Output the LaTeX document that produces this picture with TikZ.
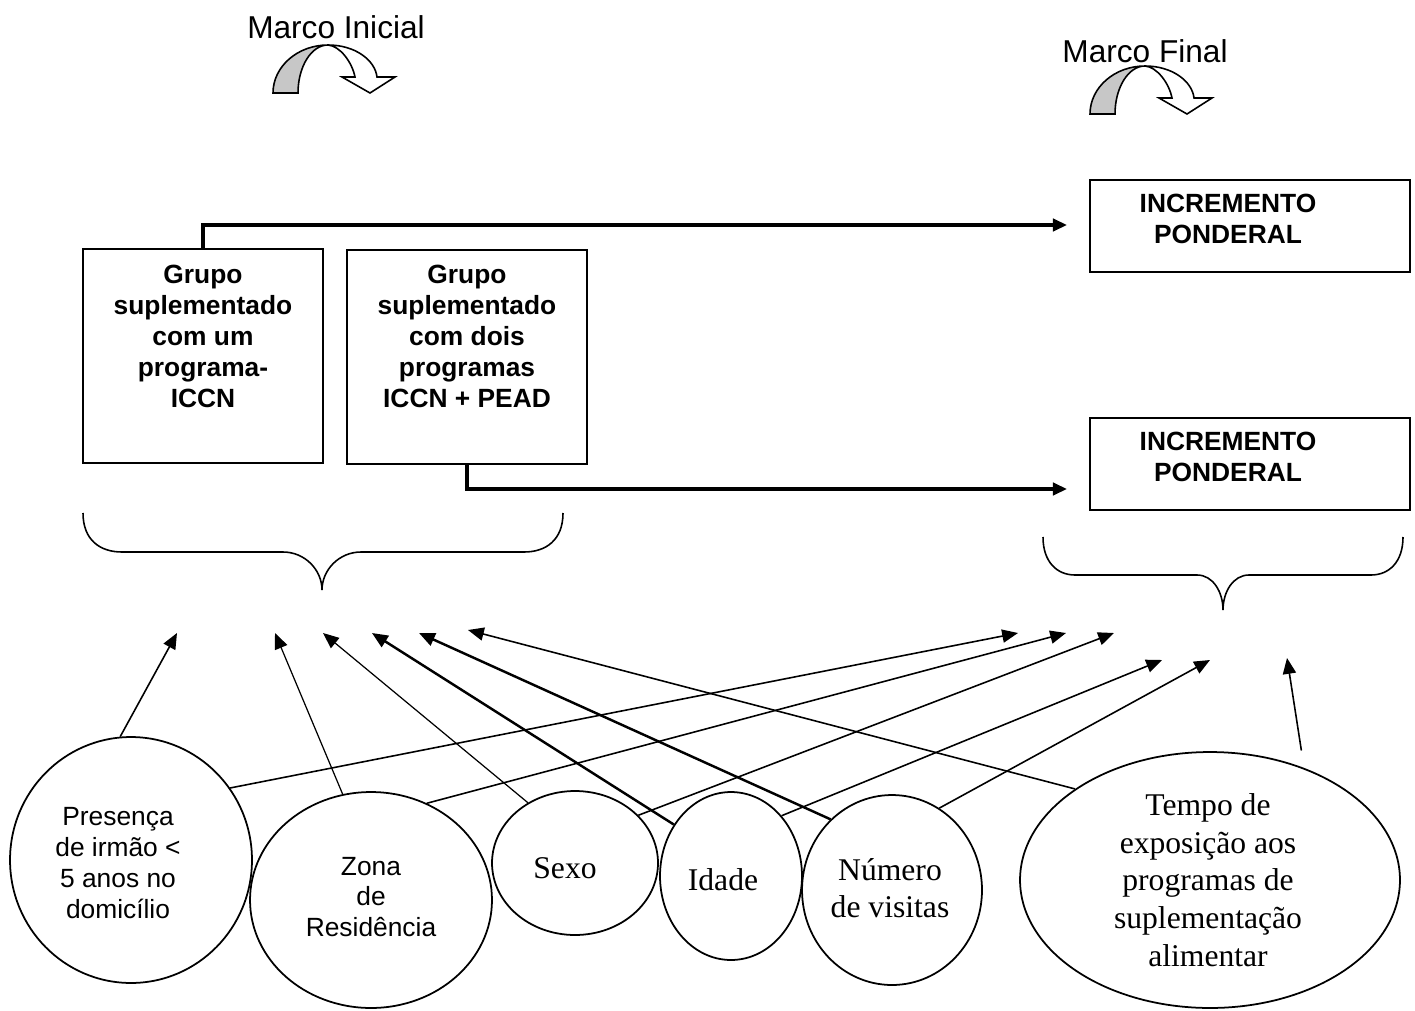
\documentclass[tikz,border=0pt]{standalone}
\usepackage{fontspec}
\setmainfont{Liberation Sans}
\newfontfamily\timesfont{Liberation Serif}
\usetikzlibrary{arrows.meta,shapes.geometric}

\tikzset{
  marcoseta/.pic={
    % white half with the arrow head
    \draw[line width=0.9pt, fill=white, line join=miter]
      (0,0) .. controls (27,0) and (47,15) .. (49,32) -- (67,32) -- (42,48)
      -- (14,32) -- (27,32) .. controls (24,17) and (12,1) .. (0,0) -- cycle;
    % grey half
    \draw[line width=0.9pt, fill=black!22]
      (-55,48) .. controls (-55,21.5) and (-30.4,0) .. (0,0)
      .. controls (-16.6,0) and (-30,21.5) .. (-30,48) -- cycle;
  }
}

\begin{document}
\begin{tikzpicture}[x=0.02cm, y=-0.02cm,
  grpbox/.style={draw, line width=1.1pt, minimum width=4.8cm, minimum height=4.28cm, inner sep=0pt},
  incbox/.style={draw, line width=1.1pt, minimum width=6.4cm, minimum height=1.84cm, inner sep=0pt},
  boxtxt/.style={font=\fontsize{15}{17.6}\selectfont\bfseries, align=center, inner sep=0pt},
  oval/.style={draw, ellipse, line width=1pt, inner sep=0pt},
  ovaltxt/.style={font=\fontsize{15}{17.6}\selectfont, align=center, inner sep=0pt},
  timestxt/.style={font=\fontsize{18}{21}\timesfont, align=center, inner sep=0pt},
  link/.style={line width=1.8pt, -{Triangle[length=8pt,width=7pt]}},
  fator/.style={line width=0.9pt, -{Triangle[length=9pt,width=7.5pt]}},
  fatorfino/.style={fator, line width=0.7pt},
  fatorgrosso/.style={fator, line width=1.4pt}]

  \useasboundingbox (0,0) rectangle (1415,1010);

  % Marcos at the top
  \node[font=\fontsize{18}{21}\selectfont, inner sep=0pt] (marcoini) at (336,27) {Marco Inicial};
  \node[font=\fontsize{18}{21}\selectfont, inner sep=0pt] (marcofim) at (1145,51) {Marco Final};
  \pic at (328,45) {marcoseta};
  \pic at (1145,66) {marcoseta};

  % The two groups
  \node[grpbox] (g1) at (203,356) {};
  \node[boxtxt, anchor=north] (g1txt) at (203,265) {Grupo\\suplementado\\com um\\programa-\\ICCN};
  \node[grpbox] (g2) at (467,357) {};
  \node[boxtxt, anchor=north] (g2txt) at (467,265) {Grupo\\suplementado\\com dois\\programas\\ICCN + PEAD};

  % Outcome boxes
  \node[incbox] (ip1) at (1250,226) {};
  \node[boxtxt] (ip1txt) at (1228,219) {INCREMENTO\\PONDERAL};
  \node[incbox] (ip2) at (1250,464) {};
  \node[boxtxt] (ip2txt) at (1228,457) {INCREMENTO\\PONDERAL};

  \coordinate (p1) at (1067,225);
  \coordinate (p2) at (1067,489);
  \draw[link] (g1.north) |- (p1);
  \draw[link] (g2.south) |- (p2);

  % Braces
  \draw[line width=0.9pt] (83,513) .. controls (83,540) and (100,552) .. (122,552) -- (283,552)
    .. controls (305,552) and (322,570) .. (322,590)
    .. controls (322,570) and (339,552) .. (361,552) -- (524,552)
    .. controls (546,552) and (563,540) .. (563,513);
  \draw[line width=0.9pt] (1043,537) .. controls (1043,562) and (1057,575) .. (1075,575) -- (1197,575)
    .. controls (1213,575) and (1223,592) .. (1223,610)
    .. controls (1223,592) and (1233,575) .. (1249,575) -- (1371,575)
    .. controls (1389,575) and (1403,562) .. (1403,537);

  % Factors
  \node[oval, minimum width=4.84cm, minimum height=4.92cm] (pres) at (131,860) {};
  \node[ovaltxt] (prestxt) at (118,863) {Presença\\de irmão <\\5 anos no\\domicílio};
  \node[oval, minimum width=4.84cm, minimum height=4.32cm] (zona) at (371,900) {};
  \node[ovaltxt] (zonatxt) at (371,897) {Zona\\de\\Residência};
  \node[oval, minimum width=3.32cm, minimum height=2.88cm] (sexo) at (575,863) {};
  \node[timestxt] (sexotxt) at (565,868) {Sexo};
  \node[oval, minimum width=2.84cm, minimum height=3.36cm] (idade) at (731,876) {};
  \node[timestxt] (idadetxt) at (723,880) {Idade};
  \node[oval, minimum width=3.6cm, minimum height=3.8cm] (num) at (892,890) {};
  \node[timestxt] (numtxt) at (890,888) {Número\\de visitas};
  \node[oval, minimum width=7.6cm, minimum height=5.12cm] (tempo) at (1210,880) {};
  \node[timestxt, font=\fontsize{18}{21.5}\timesfont] (tempotxt) at (1208,880) {Tempo de\\exposição aos\\programas de\\suplementação\\alimentar};

  % Arrow tips
  \coordinate (ini1) at (177,633);
  \coordinate (ini2) at (275,633);
  \coordinate (ini3) at (323,633);
  \coordinate (ini4) at (372,633);
  \coordinate (ini5) at (419,633);
  \coordinate (ini6) at (468,630);
  \coordinate (fim1) at (1018,633);
  \coordinate (fim2) at (1066,633);
  \coordinate (fim3) at (1114,633);
  \coordinate (fim4) at (1162,660);
  \coordinate (fim5) at (1210,660);
  \coordinate (fim6) at (1287,658);

  \draw[fator] (pres.95) -- (ini1);
  \draw[fatorfino] (zona.105) -- (ini2);
  \draw[fatorfino] (sexo.128) -- (ini3);
  \draw[fatorgrosso] (idade.138) -- (ini4);
  \draw[fatorgrosso] (num.131) -- (ini5);
  \draw[fator] (tempo.146) -- (ini6);
  \draw[fator] (pres.36) -- (fim1);
  \draw[fator] (zona.60) -- (fim2);
  \draw[fator] (sexo.37) -- (fim3);
  \draw[fator] (idade.50) -- (fim4);
  \draw[fator] (num.60) -- (fim5);
  \draw[fator, shorten <=10pt] (tempo.50) -- (fim6);

\end{tikzpicture}
\end{document}
